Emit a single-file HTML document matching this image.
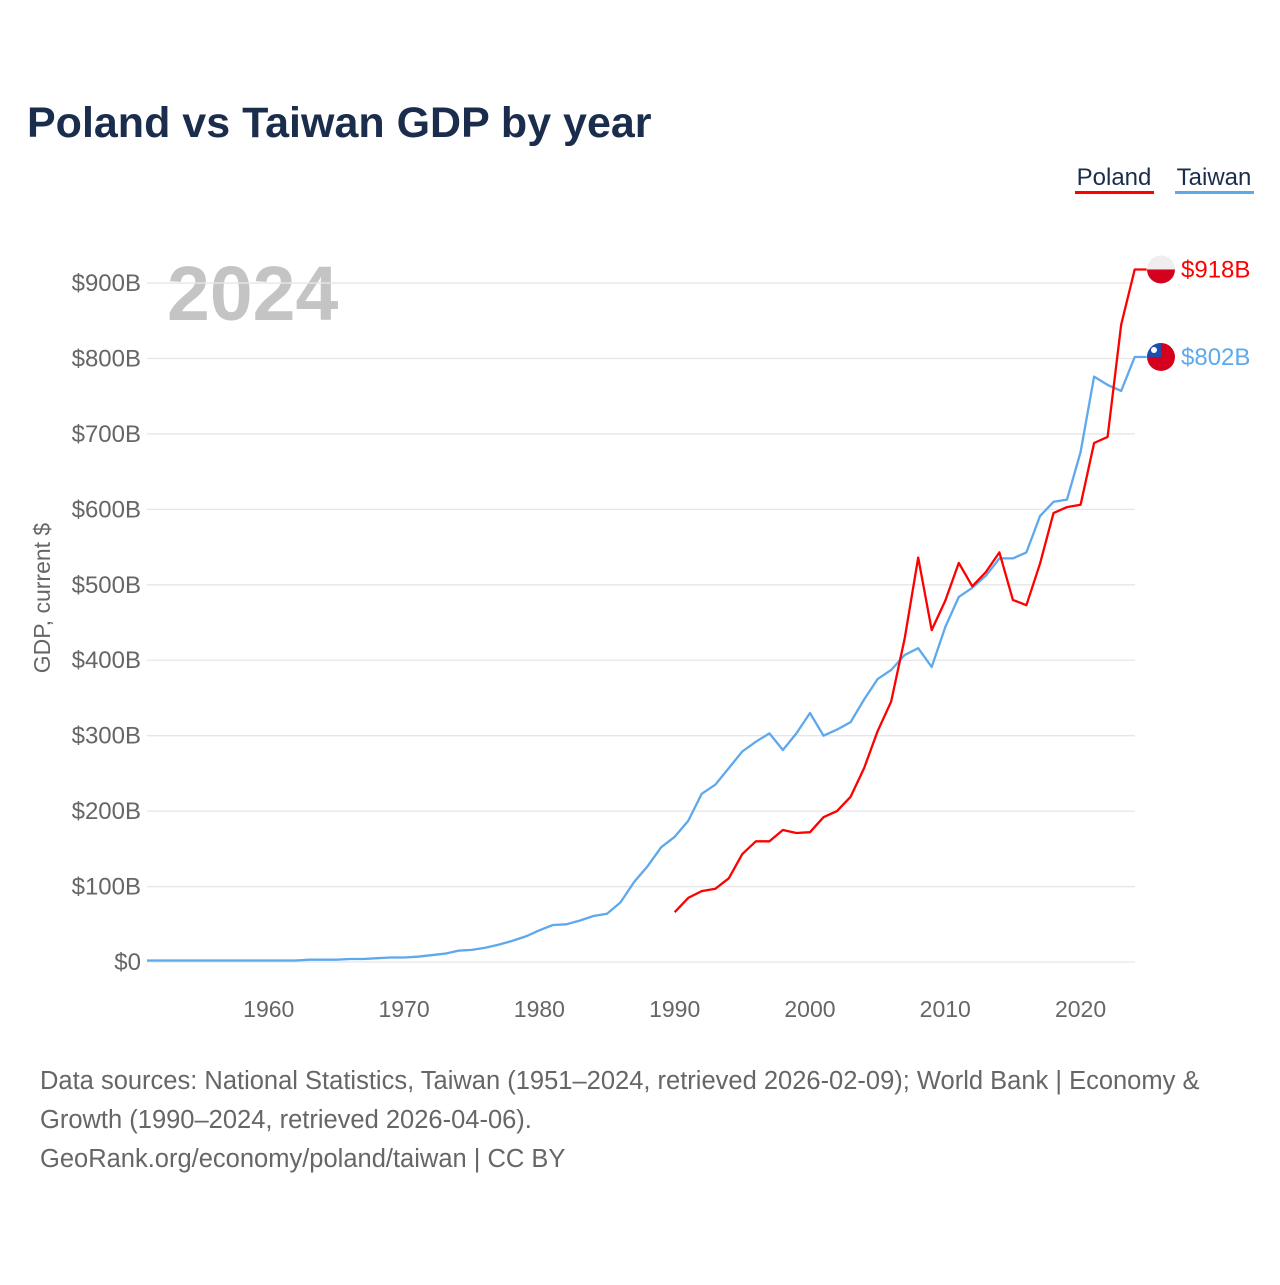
<!DOCTYPE html>
<html><head><meta charset="utf-8"><style>
body{margin:0;background:#fff;}
svg text{font-family:"Liberation Sans",sans-serif;}
</style></head><body>
<svg id="chart" width="1280" height="1280" xmlns="http://www.w3.org/2000/svg">
<rect width="1280" height="1280" fill="#fff"/>
<text x="27" y="137" font-size="43" font-weight="bold" fill="#1b2d4d">Poland vs Taiwan GDP by year</text>
<g><text x="1114" y="185" font-size="24" fill="#1b2d4d" text-anchor="middle">Poland</text><rect x="1075" y="191" width="79" height="3" fill="#ff0000"/></g>
<g><text x="1214" y="185" font-size="24" fill="#1b2d4d" text-anchor="middle">Taiwan</text><rect x="1175" y="191" width="79" height="3" fill="#5ea8ee"/></g>
<text x="167" y="320" font-size="77" font-weight="bold" fill="#c4c4c4">2024</text>
<text transform="translate(50,598) rotate(-90)" font-size="23" fill="#666" text-anchor="middle">GDP, current $</text>
<g id="grid"></g><g id="series"></g>
<g font-size="25.5" fill="#666">
<text x="40" y="1089">Data sources: National Statistics, Taiwan (1951–2024, retrieved 2026-02-09); World Bank | Economy &amp;</text>
<text x="40" y="1128">Growth (1990–2024, retrieved 2026-04-06).</text>
<text x="40" y="1167">GeoRank.org/economy/poland/taiwan | CC BY</text>
</g>
</svg>
<script>
const yTicks=[0,100,200,300,400,500,600,700,800,900];
const xTicks=[1960,1970,1980,1990,2000,2010,2020];
const polandYears=[1990,1991,1992,1993,1994,1995,1996,1997,1998,1999,2000,2001,2002,2003,2004,2005,2006,2007,2008,2009,2010,2011,2012,2013,2014,2015,2016,2017,2018,2019,2020,2021,2022,2023,2024];
const polandGdp=[66,85,94,97,111,143,160,160,175,171,172,192,200,219,257,306,345,429,536,440,479,529,498,517,543,480,473,528,595,603,606,688,696,845,918];
const taiwanStart=1951;
const taiwanGdp=[2,2,2,2,2,2,2,2,2,2,2,2,3,3,3,4,4,5,6,6,7,9,11,15,16,19,23,28,34,42,49,50,55,61,64,79,106,127,152,166,187,223,235,257,279,292,303,281,303,330,300,308,318,348,375,387,407,416,391,444,484,496,512,535,535,543,591,610,613,676,776,765,757,802];
const NS='http://www.w3.org/2000/svg';
const X=yr=>147+(yr-1951)*13.53;
const Y=v=>962-v*0.7544;
const grid=document.getElementById('grid'),ser=document.getElementById('series');
function mk(tag,attrs,parent,txt){const e=document.createElementNS(NS,tag);for(const k in attrs)e.setAttribute(k,attrs[k]);if(txt!==undefined)e.textContent=txt;parent.appendChild(e);return e;}
yTicks.forEach(t=>{
 const l=mk('line',{x1:147,x2:1135,y1:Y(t),y2:Y(t),stroke:'#e6e6e6','stroke-width':1.3},grid);
 
 
 const tx=mk('text',{x:141,y:Y(t)+8,'font-size':24,fill:'#666','text-anchor':'end'},grid,t===0?'$0':'$'+t+'B');
 
 
});
xTicks.forEach(t=>{
 const tx=mk('text',{x:X(t),y:1017,'font-size':23,fill:'#666','text-anchor':'middle'},grid,String(t));
 
 
});
const tw=taiwanGdp.map((v,i)=>[X(taiwanStart+i),Y(v)]);
const pl=polandGdp.map((v,i)=>[X(polandYears[i]),Y(v)]);
function line(pts,col,name){
 const lastV=pts[pts.length-1];
 const d='M'+pts.map(p=>p[0].toFixed(1)+','+p[1].toFixed(1)).join('L')+'L'+(lastV[0]+12)+','+lastV[1].toFixed(1);
 const p=mk('path',{d:d,fill:'none',stroke:col,'stroke-width':2.3,'stroke-linejoin':'round'},ser);
 
 
}
line(tw,'#5ea8ee','taiwan-line');
line(pl,'#ff0000','poland-line');
const pe=pl[pl.length-1],te=tw[tw.length-1];
const fp=mk('g',{},ser);


mk('clipPath',{id:'cp1'},fp);mk('circle',{cx:1161,cy:pe[1],r:14},fp.lastChild);
mk('rect',{x:1147,y:pe[1]-14,width:28,height:14,fill:'#eee','clip-path':'url(#cp1)'},fp);
mk('rect',{x:1147,y:pe[1],width:28,height:14,fill:'#d4001e','clip-path':'url(#cp1)'},fp);
const ft=mk('g',{},ser);


mk('clipPath',{id:'cp2'},ft);mk('circle',{cx:1161,cy:te[1],r:14},ft.lastChild);
mk('rect',{x:1147,y:te[1]-14,width:28,height:28,fill:'#d4001e','clip-path':'url(#cp2)'},ft);
mk('rect',{x:1147,y:te[1]-14,width:14,height:14,fill:'#1a4fb0','clip-path':'url(#cp2)'},ft);
mk('circle',{cx:1154,cy:te[1]-7,r:3,fill:'#fff'},ft);
const l1=mk('text',{x:1181,y:pe[1]+8,'font-size':24,fill:'#ff0000'},ser,'$'+polandGdp[polandGdp.length-1]+'B');


const l2=mk('text',{x:1181,y:te[1]+8,'font-size':24,fill:'#5ea8ee'},ser,'$'+taiwanGdp[taiwanGdp.length-1]+'B');


</script>
</body></html>
